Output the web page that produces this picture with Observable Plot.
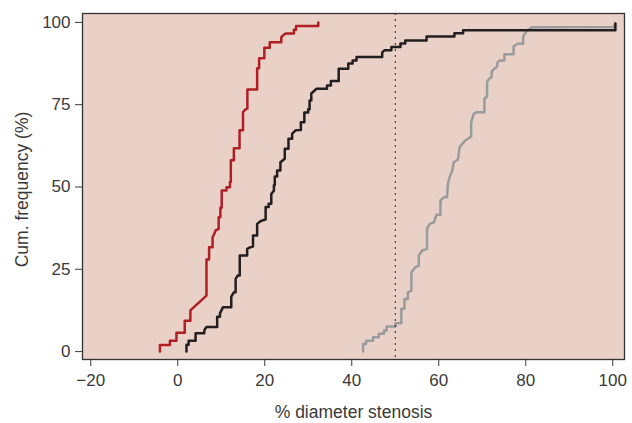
<!DOCTYPE html>
<html><head><meta charset="utf-8">
<script src="https://cdn.jsdelivr.net/npm/d3@7"></script>
<script src="https://cdn.jsdelivr.net/npm/@observablehq/plot@0.6"></script>
<style>body{margin:0;background:#fff}</style>
</head><body><div id="chart"></div>
<script>
// Vertices of the cumulative-frequency curves (% diameter stenosis, cum. %)
const redX = [-4.1,-4.1,-1.8,-1.8,-0.3,-0.3,1.6,1.6,2.9,2.9,6.6,6.6,7.2,7.2,8.0,8.0,8.3,8.7,9.4,9.4,9.8,9.8,10.1,10.1,11.2,11.2,12.0,12.0,12.2,12.2,12.9,12.9,14.2,14.2,15.0,15.0,15.5,16.0,16.0,18.25,18.25,18.7,18.7,19.9,19.9,21.15,21.15,23.8,23.8,24.4,24.8,26.7,26.7,27.2,27.2,32.3,32.3];
const redY = [0,2.0,2.0,3.3,3.3,5.7,5.7,9.4,9.4,12.5,17.0,28.0,28.0,31.7,31.7,34.7,35.5,36.8,37.3,40.8,40.8,43.7,43.7,48.9,48.9,49.9,49.9,51.5,51.5,58.1,58.1,61.8,61.8,67.2,67.2,72.7,73.5,73.8,79.6,79.6,86.1,86.1,89.1,89.1,92.3,92.3,94.0,94.0,95.5,96.3,96.6,96.6,97.8,97.8,98.9,98.9,100.0];

const blackX = [2.0,2.0,2.5,2.5,4.1,4.1,6.1,6.1,6.6,9.06,9.06,9.7,9.7,10.4,12.3,12.3,12.9,13.3,13.3,13.8,14.25,14.25,15.95,15.95,16.7,17.3,17.3,18.25,18.25,19.0,19.8,20.2,20.2,20.9,20.9,21.5,21.5,22.1,22.1,22.3,22.3,22.85,22.85,23.6,23.6,24.6,24.6,25.45,25.45,26.3,26.3,27.1,28.3,28.3,29.1,29.1,30.0,30.0,30.3,30.3,30.7,30.7,31.9,34.3,34.3,35.2,35.2,37.0,37.0,39.2,39.2,40.2,40.2,41.1,41.1,47.0,47.0,47.5,49.1,49.1,51.2,51.2,52.3,52.3,57.2,57.2,63.6,63.6,65.6,65.6,100.6,100.6];
const blackY = [0,2.1,2.1,3.3,3.3,5.6,5.6,6.5,7.45,7.45,10.6,10.6,11.6,13.5,13.5,16.7,18.0,18.0,22.1,23.1,23.1,29.2,29.2,31.2,31.7,31.9,35.3,35.3,38.8,39.6,40.0,40.1,43.9,43.9,44.9,44.9,47.9,48.9,50.5,50.5,53.2,53.2,55.0,55.0,57.5,58.6,61.6,61.6,64.65,64.65,66.2,67.2,67.3,69.7,69.7,72.6,72.6,73.6,73.6,76.3,76.3,78.4,79.85,79.85,80.85,80.85,82.2,82.2,85.9,85.9,87.5,87.5,88.45,88.45,89.45,89.45,90.9,91.5,91.5,92.5,92.5,93.6,93.6,94.5,94.5,95.7,95.7,96.7,96.7,97.6,97.6,99.7];

const grayX = [42.6,42.6,43.3,43.3,44.9,44.9,46.2,46.2,47.4,47.4,48.0,48.0,50.05,50.05,51.4,51.4,52.1,52.1,52.9,52.9,53.7,53.7,54.6,55.4,55.4,56.2,57.3,57.3,57.9,58.9,59.5,60.4,60.4,61.2,61.9,62.1,62.5,63.1,63.45,64.4,64.8,65.4,66.1,67.45,67.45,68.05,68.7,70.5,70.5,71.1,71.1,71.5,72.1,72.2,72.8,73.4,73.5,74.0,75.1,75.1,77.2,77.2,78.1,79.4,79.4,79.9,80.4,81.5,100.2,100.6];
const grayY = [0,2.3,2.3,3.3,3.3,4.35,4.35,5.4,5.4,6.4,6.4,7.6,7.6,8.6,8.6,13.0,13.0,16.0,16.0,18.0,18.5,24.1,25.6,26.1,29.2,30.7,31.2,37.3,38.8,39.3,41.6,41.6,45.9,46.9,46.9,51.0,53.0,55.0,57.5,58.3,62.1,63.1,64.1,65.35,69.7,72.25,72.74,72.74,76.8,77.5,81.9,82.8,83.3,85.1,86.0,86.5,87.8,88.45,88.45,90.3,90.3,92.7,93.5,93.5,95.7,96.7,97.6,98.5,98.6,99.7];

const xTicks = [-20, 0, 20, 40, 60, 80, 100];
const yTicks = [0, 25, 50, 75, 100];
const threshold = [50];

const toRows = (xs, ys) => xs.map((x, i) => ({x, y: ys[i]}));
const red = toRows(redX, redY), black = toRows(blackX, blackY), gray = toRows(grayX, grayY);

const chart = Plot.plot({
  width: 632, height: 423,
  marginLeft: 82, marginRight: 8, marginTop: 13, marginBottom: 64,
  style: {fontFamily: "'Liberation Sans', Arial, sans-serif", fontSize: "17px", color: "#3a3a3a", background: "#fff"},
  x: {domain: [-21.9, 102.7]},
  y: {domain: [-2.4, 102.7]},
  marks: [
    Plot.frame({fill: "#e9d1c7", stroke: null}),
    Plot.line(gray, {x: "x", y: "y", stroke: "#9a9b9d", strokeWidth: 2.5}),
    Plot.line(black, {x: "x", y: "y", stroke: "#231f20", strokeWidth: 2.5}),
    Plot.line(red, {x: "x", y: "y", stroke: "#b01f24", strokeWidth: 2.5}),
    Plot.ruleX(threshold, {stroke: "#222", strokeWidth: 1, strokeDasharray: "2,4"}),
    Plot.frame({stroke: "#333", strokeWidth: 1.3}),
    Plot.axisX({ticks: xTicks, tickSize: 7, tickPadding: 7, fontSize: 17, label: null}),
    Plot.axisY({ticks: yTicks, tickSize: 7, tickPadding: 5, fontSize: 17, label: null}),
    Plot.text(["% diameter stenosis"], {frameAnchor: "bottom", dy: 58, fontSize: 17.5, text: d => d}),
    Plot.text(["Cum. frequency (%)"], {frameAnchor: "left", textAnchor: "middle", dx: -60, dy: 3, rotate: -90, fontSize: 17.5, text: d => d})
  ]
});
document.getElementById("chart").appendChild(chart);
</script></body></html>
